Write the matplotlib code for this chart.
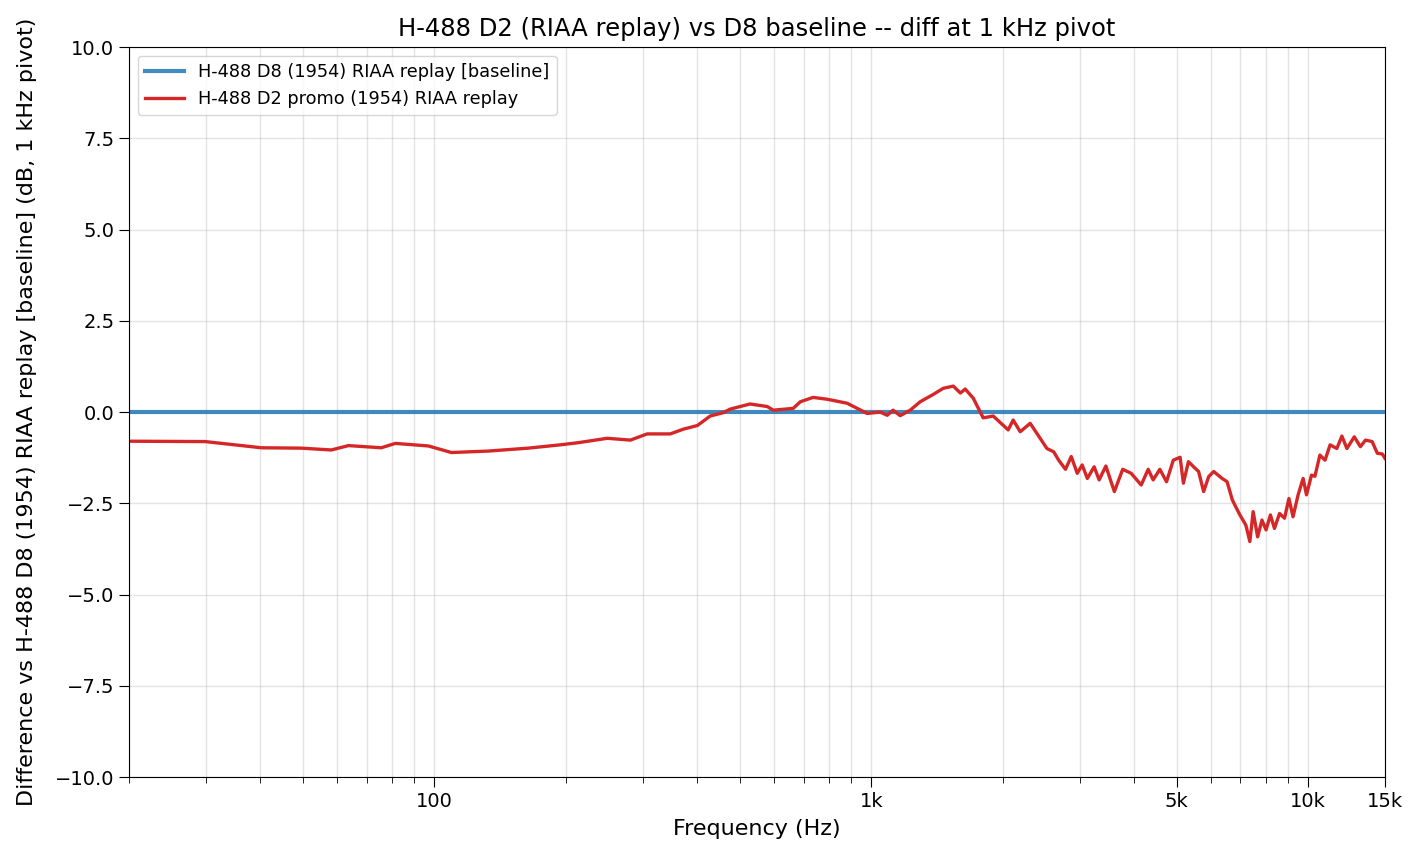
import matplotlib
matplotlib.use("Agg")
import matplotlib.pyplot as plt
from matplotlib.ticker import FixedLocator, FixedFormatter, LogLocator, NullFormatter

freq_hz = [20, 29.9, 40.2, 49.6, 58.1, 63.6, 75.6, 81.4, 96.9, 109.4, 132.9, 164, 194, 213.6,
           248.8, 281, 307, 346.7, 371.5, 400, 428, 458, 475.7, 528, 578, 597, 663, 688, 736,
           793, 881, 979, 1048, 1088, 1122, 1165, 1228, 1294, 1386, 1462, 1541, 1600, 1641,
           1712, 1804, 1902, 2058, 2113, 2193, 2311,
           2436, 2524, 2616, 2686, 2784, 2870, 2962, 3040, 3124, 3238, 3324, 3444, 3602, 3764,
           3936, 4149, 4305, 4419, 4578, 4742, 4914, 5094, 5183, 5322, 5467, 5615, 5766, 5922,
           6081, 6356, 6525, 6708, 6952, 7203, 7357, 7485, 7664, 7841, 8012, 8199, 8375, 8603,
           8831, 9039, 9236, 9487, 9741, 9916, 10180, 10366, 10642, 10933, 11229, 11634, 11950,
           12270, 12757, 13174, 13533, 14014, 14403, 14787, 15000]
diff_db = [-0.80, -0.81, -0.98, -0.99, -1.04, -0.92, -0.98, -0.86, -0.93, -1.11, -1.07, -0.99,
           -0.90, -0.84, -0.72, -0.77, -0.60, -0.60, -0.47, -0.37, -0.11, -0.02, 0.08, 0.22,
           0.15, 0.05, 0.10, 0.28, 0.40, 0.35, 0.24, -0.04, 0.00, -0.09, 0.05, -0.10, 0.05,
           0.28, 0.48, 0.65, 0.71, 0.52, 0.63, 0.38, -0.16, -0.11, -0.49, -0.22, -0.54, -0.31,
           -0.72, -1.00, -1.09, -1.32, -1.57, -1.22, -1.68, -1.45, -1.82, -1.50, -1.86, -1.48,
           -2.18, -1.57, -1.68, -2.00, -1.57, -1.86, -1.57, -1.91, -1.32, -1.24, -1.95, -1.36,
           -1.50, -1.63, -2.18, -1.77, -1.63, -1.82, -1.91, -2.41, -2.78, -3.10, -3.55, -2.73,
           -3.42, -2.96, -3.23, -2.82, -3.19, -2.78, -2.91, -2.37, -2.87, -2.27, -1.82, -2.27,
           -1.73, -1.76, -1.18, -1.32, -0.90, -1.00, -0.66, -1.00, -0.68, -0.95, -0.77, -0.81,
           -1.13, -1.15, -1.27]

baseline_freq = [20, 15000]
baseline_db = [0.0, 0.0]

xtick_vals = [100, 1000, 5000, 10000, 15000]
xtick_labels = ["100", "1k", "5k", "10k", "15k"]

fig = plt.figure(figsize=(14.22, 8.58), dpi=100)
ax = fig.add_axes([0.0907, 0.0944, 0.974 - 0.0907, 0.9452 - 0.0944])

ax.plot(baseline_freq, baseline_db, color="#1f77b4", alpha=0.85, lw=3.0,
        label="H-488 D8 (1954) RIAA replay [baseline]")
ax.plot(freq_hz, diff_db, color="#d62728", lw=2.4,
        label="H-488 D2 promo (1954) RIAA replay")

ax.set_xscale("log")
ax.set_xlim(20, 15000)
ax.set_ylim(-10, 10)
ax.xaxis.set_major_locator(FixedLocator(xtick_vals))
ax.xaxis.set_major_formatter(FixedFormatter(xtick_labels))
ax.xaxis.set_minor_locator(LogLocator(base=10, subs=range(2, 10)))
ax.xaxis.set_minor_formatter(NullFormatter())
ax.set_yticks([-10, -7.5, -5, -2.5, 0, 2.5, 5, 7.5, 10])
ax.grid(True, which="both", color="#b0b0b0", alpha=0.35, lw=1.0)
ax.tick_params(labelsize=14, length=7)
ax.tick_params(which="minor", length=4)

ax.set_xlabel("Frequency (Hz)", fontsize=16, labelpad=6)
ax.set_ylabel("Difference vs H-488 D8 (1954) RIAA replay [baseline] (dB, 1 kHz pivot)",
              fontsize=16, labelpad=13)
ax.set_title("H-488 D2 (RIAA replay) vs D8 baseline -- diff at 1 kHz pivot", fontsize=17.5, pad=8)
ax.legend(loc="upper left", fontsize=12.8, handlelength=2.2)

fig.savefig("out.png", dpi=100)
